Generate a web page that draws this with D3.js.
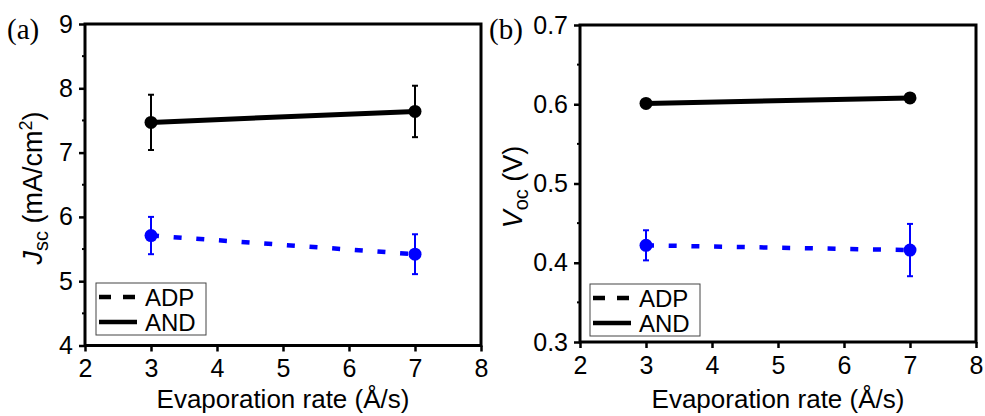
<!DOCTYPE html>
<html>
<head>
<meta charset="utf-8">
<script src="https://cdn.jsdelivr.net/npm/d3@7"></script>
<style>
  body { margin: 0; background: #fff; }
  svg { display: block; font-family: "Liberation Sans", Arial, sans-serif; }
</style>
</head>
<body>
<div id="chart"></div>
<script>
// Evaporation rates (x) and tick values
const rates = [3, 7];
const xTicks = [2, 3, 4, 5, 6, 7, 8];
const jscTicks = [4, 5, 6, 7, 8, 9];
const vocTicks = [0.3, 0.4, 0.5, 0.6, 0.7];

// (a) Jsc in mA/cm2
const jscADP = [5.71, 5.42];
const jscADPErr = [0.29, 0.31];
const jscAND = [7.47, 7.64];
const jscANDErr = [0.43, 0.40];

// (b) Voc in V
const vocADP = [0.422, 0.416];
const vocADPErr = [0.019, 0.033];
const vocAND = [0.601, 0.608];
const vocANDErr = [0.003, 0.003];

const seriesNames = ['ADP', 'AND'];

const width = 985;
const height = 416;

const svg = d3.select('#chart')
    .append('svg')
    .attr('width', width)
    .attr('height', height);

function drawPanel(p) {
    const x = d3.scaleLinear().domain([2, 8]).range([p.left, p.right]);
    const y = d3.scaleLinear().domain(p.yDomain).range([p.bottom, p.top]);
    const g = svg.append('g');

    // minor ticks on y axis
    const minor = d3.range(p.yDomain[0] + p.minorStep, p.yDomain[1], p.minorStep * 2);
    g.append('g')
        .selectAll('line')
        .data(minor)
        .join('line')
        .attr('x1', p.left - 3)
        .attr('x2', p.left)
        .attr('y1', d => y(d))
        .attr('y2', d => y(d))
        .attr('stroke', '#000')
        .attr('stroke-width', 2);

    // axes
    const xAxis = d3.axisBottom(x).tickValues(xTicks).tickSize(6).tickPadding(8).tickFormat(d3.format('d'));
    const yAxis = d3.axisLeft(y).tickValues(p.yTicks).tickSize(6).tickPadding(6).tickFormat(p.yFormat);

    const gx = g.append('g').attr('transform', `translate(0,${p.bottom})`).call(xAxis);
    const gy = g.append('g').attr('transform', `translate(${p.left},0)`).call(yAxis);
    [gx, gy].forEach(a => {
        a.select('.domain').remove();
        a.selectAll('.tick line').attr('stroke-width', 2.5);
        a.selectAll('.tick text')
            .attr('font-size', 25)
            .attr('font-family', '"Liberation Sans", Arial, sans-serif')
            .attr('fill', '#000');
    });

    // frame
    g.append('rect')
        .attr('x', p.left)
        .attr('y', p.top)
        .attr('width', p.right - p.left)
        .attr('height', p.bottom - p.top)
        .attr('fill', 'none')
        .attr('stroke', '#000')
        .attr('stroke-width', 3);

    // series
    const series = [
        { name: 'ADP', vals: p.adp, err: p.adpErr, color: '#0000ff', dash: '8 14.7' },
        { name: 'AND', vals: p.and, err: p.andErr, color: '#000', dash: null },
    ];

    series.forEach(s => {
        const pts = rates.map((r, i) => ({ x: r, y: s.vals[i], e: s.err[i] }));

        g.append('path')
            .datum(pts)
            .attr('d', d3.line().x(d => x(d.x)).y(d => y(d.y)))
            .attr('fill', 'none')
            .attr('stroke', s.color)
            .attr('stroke-width', s.dash ? 4.5 : 5)
            .attr('stroke-dasharray', s.dash);

        const eb = g.append('g').attr('stroke', s.color).attr('stroke-width', 2);
        eb.selectAll('line.v').data(pts).join('line')
            .attr('x1', d => x(d.x)).attr('x2', d => x(d.x))
            .attr('y1', d => y(d.y - d.e)).attr('y2', d => y(d.y + d.e));
        eb.selectAll('line.t').data(pts).join('line')
            .attr('x1', d => x(d.x) - 3).attr('x2', d => x(d.x) + 3)
            .attr('y1', d => y(d.y + d.e)).attr('y2', d => y(d.y + d.e));
        eb.selectAll('line.b').data(pts).join('line')
            .attr('x1', d => x(d.x) - 3).attr('x2', d => x(d.x) + 3)
            .attr('y1', d => y(d.y - d.e)).attr('y2', d => y(d.y - d.e));

        g.append('g').selectAll('circle').data(pts).join('circle')
            .attr('cx', d => x(d.x))
            .attr('cy', d => y(d.y))
            .attr('r', 6.5)
            .attr('fill', s.color);
    });

    // legend
    const lg = g.append('g').attr('transform', `translate(${p.legX},${p.legY})`);
    lg.append('rect')
        .attr('width', 110)
        .attr('height', 52)
        .attr('fill', '#fff')
        .attr('stroke', '#444')
        .attr('stroke-width', 1);
    seriesNames.forEach((name, i) => {
        lg.append('line')
            .attr('x1', 3).attr('x2', 41)
            .attr('y1', 14 + i * 25).attr('y2', 14 + i * 25)
            .attr('stroke', '#000')
            .attr('stroke-width', 4.5)
            .attr('stroke-dasharray', i === 0 ? '12 12' : null);
        lg.append('text')
            .attr('x', 49)
            .attr('y', 23 + i * 25)
            .attr('font-size', 24)
            .text(name);
    });

    // x title
    g.append('text')
        .attr('x', (p.left + p.right) / 2)
        .attr('y', 408)
        .attr('text-anchor', 'middle')
        .attr('font-size', 26)
        .text('Evaporation rate (Å/s)');

    // y title
    const yt = g.append('text')
        .attr('transform', `translate(${p.ytX},${p.ytY}) rotate(-90)`)
        .attr('text-anchor', 'middle')
        .attr('font-size', 27);
    p.yTitle(yt);

    // panel label
    g.append('text')
        .attr('x', p.labX)
        .attr('y', 39)
        .attr('font-family', '"Liberation Serif", "Times New Roman", serif')
        .attr('font-size', 29)
        .text(p.label);
}

drawPanel({
    left: 85, right: 481, top: 24, bottom: 345.5,
    yDomain: [4, 9], yTicks: jscTicks, minorStep: 0.5, yFormat: d3.format('d'),
    adp: jscADP, adpErr: jscADPErr, and: jscAND, andErr: jscANDErr,
    legX: 96, legY: 283,
    ytX: 42, ytY: 188,
    labX: 7, label: '(a)',
    yTitle: t => {
        t.append('tspan').attr('font-style', 'italic').text('J');
        t.append('tspan').attr('font-size', 20).attr('dy', 6).text('sc');
        t.append('tspan').attr('dy', -6).text(' (mA/cm');
        t.append('tspan').attr('font-size', 18).attr('dy', -10).text('2');
        t.append('tspan').attr('dy', 10).text(')');
    }
});

drawPanel({
    left: 580, right: 976, top: 25, bottom: 342,
    yDomain: [0.3, 0.7], yTicks: vocTicks, minorStep: 0.05, yFormat: d3.format('.1f'),
    adp: vocADP, adpErr: vocADPErr, and: vocAND, andErr: vocANDErr,
    legX: 590, legY: 284,
    ytX: 522, ytY: 187,
    labX: 489, label: '(b)',
    yTitle: t => {
        t.append('tspan').attr('font-style', 'italic').text('V');
        t.append('tspan').attr('font-size', 20).attr('dy', 6).text('oc');
        t.append('tspan').attr('dy', -6).text(' (V)');
    }
});
</script>
</body>
</html>
